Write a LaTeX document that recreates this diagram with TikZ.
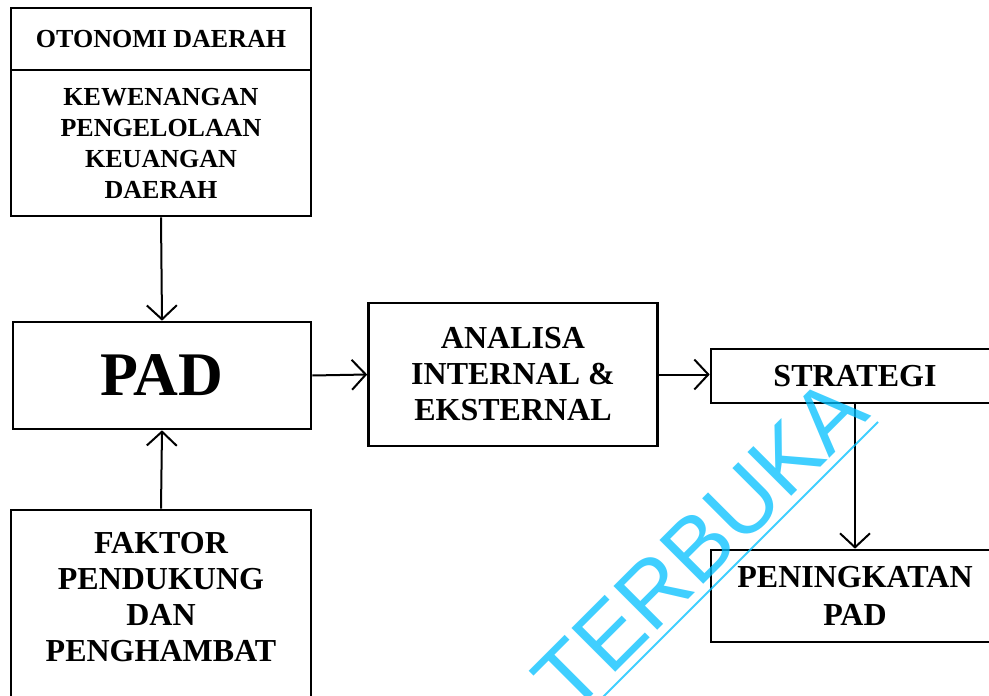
\documentclass[tikz,border=0pt]{standalone}
\usepackage{fontspec}
\setmainfont{Liberation Serif}
\setsansfont{Liberation Sans}
\usetikzlibrary{arrows.meta}
\definecolor{wmblue}{RGB}{0,191,255}
\begin{document}
\begin{tikzpicture}[x=1pt,y=-1pt,
  box/.style={draw, line width=2.6pt, rectangle, inner sep=0pt, align=center},
  small/.style={font=\bfseries\fontsize{26}{31}\selectfont},
  mid/.style={font=\bfseries\fontsize{32}{36}\selectfont},
  conn/.style={line width=2pt, -{Straight Barb[length=14pt,width=30pt,line width=2pt]}},
  wmark/.style={wmblue, opacity=0.75}
]
\useasboundingbox (0,0) rectangle (989,696);
\clip (0,0) rectangle (989,696);

\node[box, small, minimum width=300pt, minimum height=62pt] (otonomi) at (161,39) {OTONOMI DAERAH};
\node[box, small, minimum width=300pt, minimum height=146pt] (kewenangan) at (161,143) {KEWENANGAN\\PENGELOLAAN\\KEUANGAN\\DAERAH};

\node[box, font=\bfseries\fontsize{62}{62}\selectfont, minimum width=298pt, minimum height=107pt] (pad) at (162,375.5) {PAD};

\node[box, minimum width=300pt, minimum height=200pt] (faktor) at (161,610) {};
\node[mid, align=center, inner sep=0pt] (faktortext) at (161,597) {FAKTOR\\PENDUKUNG\\DAN\\PENGHAMBAT};

\node[box, font=\bfseries\fontsize{32}{36}\selectfont, minimum width=289pt, minimum height=143pt] (analisa) at (513,374.5) {ANALISA\\INTERNAL \&\\EKSTERNAL};

\node[box, mid, minimum width=288pt, minimum height=54pt] (strategi) at (855,376) {STRATEGI};
\node[box, font=\bfseries\fontsize{32}{38.5}\selectfont, minimum width=288pt, minimum height=92pt] (peningkatan) at (855,596) {PENINGKATAN\\PAD};

\draw[conn] (kewenangan.south) -- (pad.north);
\draw[conn] (faktor.north) -- (pad.south);
\draw[conn] (pad.east) -- (analisa.west);
\draw[conn] (analisa.east) -- (analisa.east -| strategi.west);
\draw[conn] (strategi.south) -- (peningkatan.north);

\node[wmark, text=wmblue, rotate=45, inner sep=0pt, font=\sffamily\fontsize{90}{90}\selectfont] (wm) at (700,545) {TERBUKA};
\coordinate (ulA) at (578,722);
\coordinate (ulB) at (878,422);
\draw[wmark, line width=2pt] (ulA) -- (ulB);
\end{tikzpicture}
\end{document}
